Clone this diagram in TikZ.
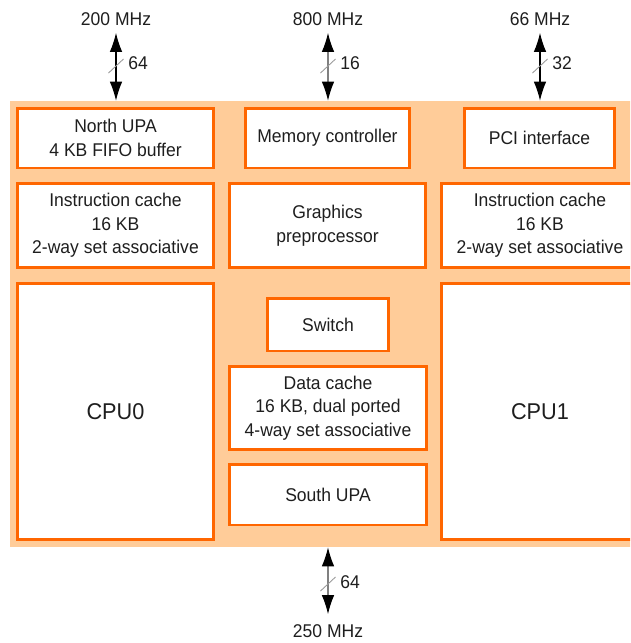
\documentclass[tikz,border=0pt]{standalone}
\usepackage{fontspec}
\setmainfont{Liberation Sans}[FakeStretch=0.95]
\usetikzlibrary{arrows.meta}
\definecolor{upaOrange}{HTML}{FF6600}
\definecolor{upaPeach}{HTML}{FFCC99}
\definecolor{upaText}{HTML}{1E1E1E}
\tikzset{
  unit/.style={draw=upaOrange, fill=white, line width=1.7pt, inner sep=0pt,
    align=center, text=upaText, font=\fontsize{10.5}{13.4}\selectfont},
  cpu/.style={unit, font=\fontsize{13}{15}\selectfont},
  band/.style={fill=upaPeach, inner sep=0pt},
  freq/.style={inner sep=0pt, text=upaText, font=\fontsize{10.5}{13.4}\selectfont},
  bus/.style={{Latex[length=0.38cm,width=0.25cm,color=black]}-{Latex[length=0.38cm,width=0.25cm,color=black]}, line width=0.6pt},
  slash/.style={draw=gray!80, line width=0.5pt},
}
\begin{document}
\begin{tikzpicture}[x=0.02cm, y=-0.02cm]
  \useasboundingbox (0,0) rectangle (630,643);
  \clip (0,0) rectangle (630,643);

  % chip area
  \node[band, minimum width=12.6cm, minimum height=8.92cm] (chip) at (325,324) {};

  % top row
  \node[unit, minimum width=3.94cm, minimum height=1.2cm] (north) at (115.5,138) {North UPA\\4 KB FIFO buffer};
  \node[unit, minimum width=3.3cm, minimum height=1.2cm] (memctl) at (327.5,138) {Memory controller};
  \node[unit, minimum width=3.02cm, minimum height=1.2cm] (pci) at (539.5,138) {PCI interface};

  % second row
  \node[unit, minimum width=3.94cm, minimum height=1.68cm] (icache0) at (115.5,225.5) {Instruction cache\\16 KB\\2-way set associative};
  \node[unit, minimum width=3.94cm, minimum height=1.68cm] (gpp) at (327.5,225.5) {Graphics\\preprocessor};
  \node[unit, minimum width=3.94cm, minimum height=1.68cm] (icache1) at (540,225.5) {Instruction cache\\16 KB\\2-way set associative};

  % CPUs
  \node[cpu, minimum width=3.94cm, minimum height=5.14cm] (cpu0) at (115.5,411.5) {CPU0};
  \node[cpu, minimum width=3.94cm, minimum height=5.14cm] (cpu1) at (540,411.5) {CPU1};

  % middle column
  \node[unit, minimum width=2.44cm, minimum height=1.06cm] (switch) at (328,324.5) {Switch};
  \node[unit, minimum width=3.96cm, minimum height=1.66cm] (dcache) at (328,408) {Data cache\\16 KB, dual ported\\4-way set associative};
  \node[unit, minimum width=3.96cm, minimum height=1.22cm] (south) at (328,494.5) {South UPA};

  % buses on top
  \foreach \x/\f/\w/\c [count=\i] in {116/200/64/black, 328/800/16/gray, 540/66/32/black} {
    \node[freq] (f\i) at (\x,19) {\f\ MHz};
    \draw[bus, draw=\c, shorten <=0.14cm] (f\i.south) -- (f\i.south |- chip.north);
    \coordinate (m\i) at (\x,66);
    \draw[slash] (m\i) ++(-7.5,7) -- ++(15,-14);
    \node[freq, anchor=west] (w\i) at (\x+12,63) {\w};
  }

  % bus below
  \node[freq] (f4) at (328,631) {250 MHz};
  \draw[bus, draw=gray, shorten >=0.2cm] (chip.south -| f4) -- (f4.north);
  \coordinate (m4) at (328,584);
  \draw[slash] (m4) ++(-7.5,7) -- ++(15,-14);
  \node[freq, anchor=west] (w4) at (340,582) {64};
\end{tikzpicture}
\end{document}
